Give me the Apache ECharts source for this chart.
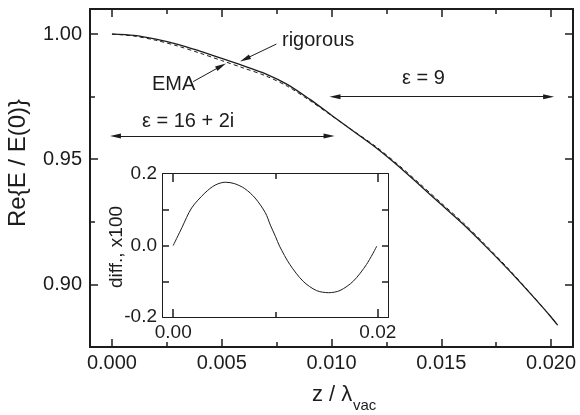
<!DOCTYPE html>
<html>
<head>
<meta charset="utf-8">
<script src="https://cdn.jsdelivr.net/npm/echarts@6/dist/echarts.min.js"></script>
<style>
  html, body { margin: 0; padding: 0; background: #fff; }
  #chart { width: 580px; height: 415px; }
</style>
</head>
<body>
<div id="chart"></div>
<script>
// Field ratio along z for the rigorous solution and the effective-medium approximation
const zMain = [0, 0.001, 0.002, 0.003, 0.004, 0.005, 0.006, 0.007, 0.008, 0.009, 0.010,
               0.011, 0.012, 0.013, 0.014, 0.015, 0.016, 0.017, 0.018, 0.019, 0.020, 0.0203];
const rigorous = [1.0000, 0.9995, 0.9980, 0.9959, 0.9932, 0.9903, 0.9873, 0.9841, 0.9798, 0.9740, 0.9676,
                  0.9612, 0.9548, 0.9476, 0.9398, 0.9319, 0.9240, 0.9154, 0.9064, 0.8969, 0.8870, 0.8837];
const ema = [1.0000, 0.9992, 0.9975, 0.9952, 0.9924, 0.9894, 0.9864, 0.9833, 0.9791, 0.9735, 0.9674,
             0.9613, 0.9552, 0.9481, 0.9404, 0.9325, 0.9246, 0.9159, 0.9068, 0.8971, 0.8870, 0.8837];

// Inset: difference (rigorous - EMA), scaled by 100
const zInset = [0, 0.00085, 0.0018, 0.0031, 0.0041, 0.0051, 0.0060, 0.0070, 0.0080, 0.0090, 0.0095,
                0.0100, 0.0104, 0.0114, 0.0127, 0.0140, 0.0152, 0.0163, 0.0176, 0.0189, 0.0199];
const diff = [0, 0.050, 0.105, 0.147, 0.169, 0.177, 0.173, 0.159, 0.133, 0.092, 0.057,
              0.025, -0.002, -0.053, -0.100, -0.126, -0.132, -0.126, -0.100, -0.053, -0.002];

// Tick positions and labels
const xMajor = [0, 0.005, 0.010, 0.015, 0.020];
const xMinor = [0.0025, 0.0075, 0.0125, 0.0175];
const yMajor = [0.90, 0.95, 1.00];
const yMinor = [0.925, 0.975];
const insetXMajor = [0, 0.02];
const insetXMinor = [0.01];
const insetYTicks = [-0.1, 0, 0.1];
const insetYLabels = [-0.2, 0, 0.2];

// Annotation arrows in data coordinates: [from, to]
const arrowRigorous = [[0.00749, 0.9960], [0.00606, 0.9900]];
const arrowEma = [[0.00370, 0.9810], [0.00497, 0.9872]];
const rangeEps16 = [[0.00016, 0.9593], [0.00989, 0.9593]];
const rangeEps9 = [[0.01016, 0.9750], [0.01989, 0.9750]];

const FONT = '"Liberation Sans", Arial, Helvetica, sans-serif';
const INK = '#1c1c1c';

const xRange = { min: -0.001, max: 0.021 };
const yRange = { min: 0.875, max: 1.01 };
const yInset = { min: -0.2, max: 0.2 };

const mainGrid = { left: 90, top: 9, width: 483, height: 338 };
const insetGrid = { left: 163, top: 174, width: 225, height: 143 };

// Plain frame axis: only the line
function frameAxis(grid, pos, range) {
  return {
    type: 'value', gridIndex: grid, position: pos, min: range.min, max: range.max,
    axisLine: { show: true, onZero: false, lineStyle: { color: INK, width: 2 } },
    axisTick: { show: false },
    axisLabel: { show: false },
    splitLine: { show: false }
  };
}

// Inward ticks on all four sides, drawn as short mark lines in data space.
// Pixel lengths are turned into data lengths with the grid's size.
function tickSeries(xIdx, yIdx, xr, yr, g, spec) {
  const dxPx = (xr.max - xr.min) / g.width;
  const dyPx = (yr.max - yr.min) / g.height;
  const segs = [];
  const seg = (a, b) => segs.push([{ coord: a }, { coord: b }]);
  spec.xTicks.forEach(function (t) {
    t.vals.forEach(function (v) {
      seg([v, yr.min], [v, yr.min + t.len * dyPx]);
      seg([v, yr.max], [v, yr.max - t.len * dyPx]);
    });
  });
  spec.yTicks.forEach(function (t) {
    t.vals.forEach(function (v) {
      seg([xr.min, v], [xr.min + t.len * dxPx, v]);
      seg([xr.max, v], [xr.max - t.len * dxPx, v]);
    });
  });
  return {
    type: 'line', xAxisIndex: xIdx, yAxisIndex: yIdx, z: 10, silent: true,
    data: [[xr.min, yr.min]], showSymbol: false, lineStyle: { width: 0, opacity: 0 },
    markLine: {
      silent: true, animation: false, symbol: ['none', 'none'], precision: 6,
      lineStyle: { color: INK, width: 1.5, type: 'solid' },
      label: { show: false }, emphasis: { disabled: true },
      data: segs
    }
  };
}

// Tick labels placed through the grid's coordinate conversion
function labelSeries(xIdx, yIdx, xr, yr, spec) {
  return {
    type: 'custom', xAxisIndex: xIdx, yAxisIndex: yIdx, clip: false, silent: true, z: 10,
    data: [[xr.min, yr.min]],
    renderItem: function (params, api) {
      const kids = [];
      const label = (str, x, y, align, vAlign) => kids.push({
        type: 'text', x: x, y: y,
        style: { text: str, fontSize: spec.fs, fontFamily: FONT, fill: INK, align: align, verticalAlign: vAlign }
      });
      spec.xLabels.vals.forEach(function (v) {
        const p = api.coord([v, yr.min]);
        label(spec.xLabels.fmt(v), p[0], p[1] + spec.xLabels.margin, 'center', 'top');
      });
      spec.yLabels.vals.forEach(function (v) {
        const p = api.coord([xr.min, v]);
        label(spec.yLabels.fmt(v), p[0] - spec.yLabels.margin, p[1], 'right', 'middle');
      });
      return { type: 'group', children: kids };
    }
  };
}

const fx3 = v => v.toFixed(3);
const fx2 = v => v.toFixed(2);
const fx1 = v => v.toFixed(1);

function arrowLine(seg, twoHeads) {
  return [
    { coord: seg[0], symbol: twoHeads ? 'triangle' : 'none' },
    { coord: seg[1], symbol: 'triangle' }
  ];
}

function text(str, x, y, size, rotated) {
  return {
    type: 'text', x: x, y: y, silent: true, rotation: rotated ? Math.PI / 2 : 0,
    style: { text: str, fontSize: size, fontFamily: FONT, fill: INK,
             align: rotated ? 'center' : 'left', verticalAlign: 'middle' }
  };
}

const chart = echarts.init(document.getElementById('chart'), null, { renderer: 'canvas' });
chart.setOption({
  animation: false,
  backgroundColor: '#fff',
  grid: [
    Object.assign({ containLabel: false }, mainGrid),
    Object.assign({ containLabel: false, show: true, backgroundColor: '#fff', borderWidth: 0, z: 3 }, insetGrid)
  ],
  xAxis: [
    frameAxis(0, 'bottom', xRange),
    frameAxis(0, 'top', xRange),
    frameAxis(1, 'bottom', xRange),
    frameAxis(1, 'top', xRange)
  ],
  yAxis: [
    frameAxis(0, 'left', yRange),
    frameAxis(0, 'right', yRange),
    frameAxis(1, 'left', yInset),
    frameAxis(1, 'right', yInset)
  ],
  series: [
    {
      name: 'rigorous', type: 'line', xAxisIndex: 0, yAxisIndex: 0,
      data: zMain.map((z, i) => [z, rigorous[i]]),
      showSymbol: false, smooth: 0.3,
      lineStyle: { color: INK, width: 1.3, type: 'solid' },
      markLine: {
        silent: true, animation: false,
        symbolSize: [5, 11],
        lineStyle: { color: INK, width: 1, type: 'solid' },
        label: { show: false },
        emphasis: { disabled: true },
        data: [
          arrowLine(arrowRigorous, false),
          arrowLine(arrowEma, false),
          arrowLine(rangeEps16, true),
          arrowLine(rangeEps9, true)
        ]
      }
    },
    {
      name: 'EMA', type: 'line', xAxisIndex: 0, yAxisIndex: 0,
      data: zMain.map((z, i) => [z, ema[i]]),
      showSymbol: false, smooth: 0.3,
      lineStyle: { color: INK, width: 1, type: [4, 3] }
    },
    {
      name: 'diff', type: 'line', xAxisIndex: 2, yAxisIndex: 2,
      data: zInset.map((z, i) => [z, diff[i]]),
      showSymbol: false, smooth: 0.3, z: 4,
      lineStyle: { color: INK, width: 1 }
    },
    tickSeries(0, 0, xRange, yRange, mainGrid, {
      xTicks: [{ vals: xMajor, len: 8 }, { vals: xMinor, len: 5 }],
      yTicks: [{ vals: yMajor, len: 8 }, { vals: yMinor, len: 5 }]
    }),
    tickSeries(2, 2, xRange, yInset, insetGrid, {
      xTicks: [{ vals: insetXMajor, len: 8 }, { vals: insetXMinor, len: 5 }],
      yTicks: [{ vals: insetYTicks, len: 6 }]
    }),
    labelSeries(0, 0, xRange, yRange, {
      fs: 20,
      xLabels: { vals: xMajor, fmt: fx3, margin: 6 },
      yLabels: { vals: yMajor, fmt: fx2, margin: 8 }
    }),
    labelSeries(2, 2, xRange, yInset, {
      fs: 19,
      xLabels: { vals: insetXMajor, fmt: fx2, margin: 6 },
      yLabels: { vals: insetYLabels, fmt: fx1, margin: 6 }
    })
  ],
  graphic: [
    text('rigorous', 282, 40, 20),
    text('EMA', 152, 84, 20),
    text('\u03b5 = 16 + 2i', 142, 121, 20),
    text('\u03b5 = 9', 402, 78, 20),
    text('Re{E / E(0)}', 18, 163, 24, true),
    text('diff., x100', 117, 247, 19, true),
    text('z / \u03bb', 312, 395, 22),
    text('vac', 353, 406, 15)
  ]
});
</script>
</body>
</html>
